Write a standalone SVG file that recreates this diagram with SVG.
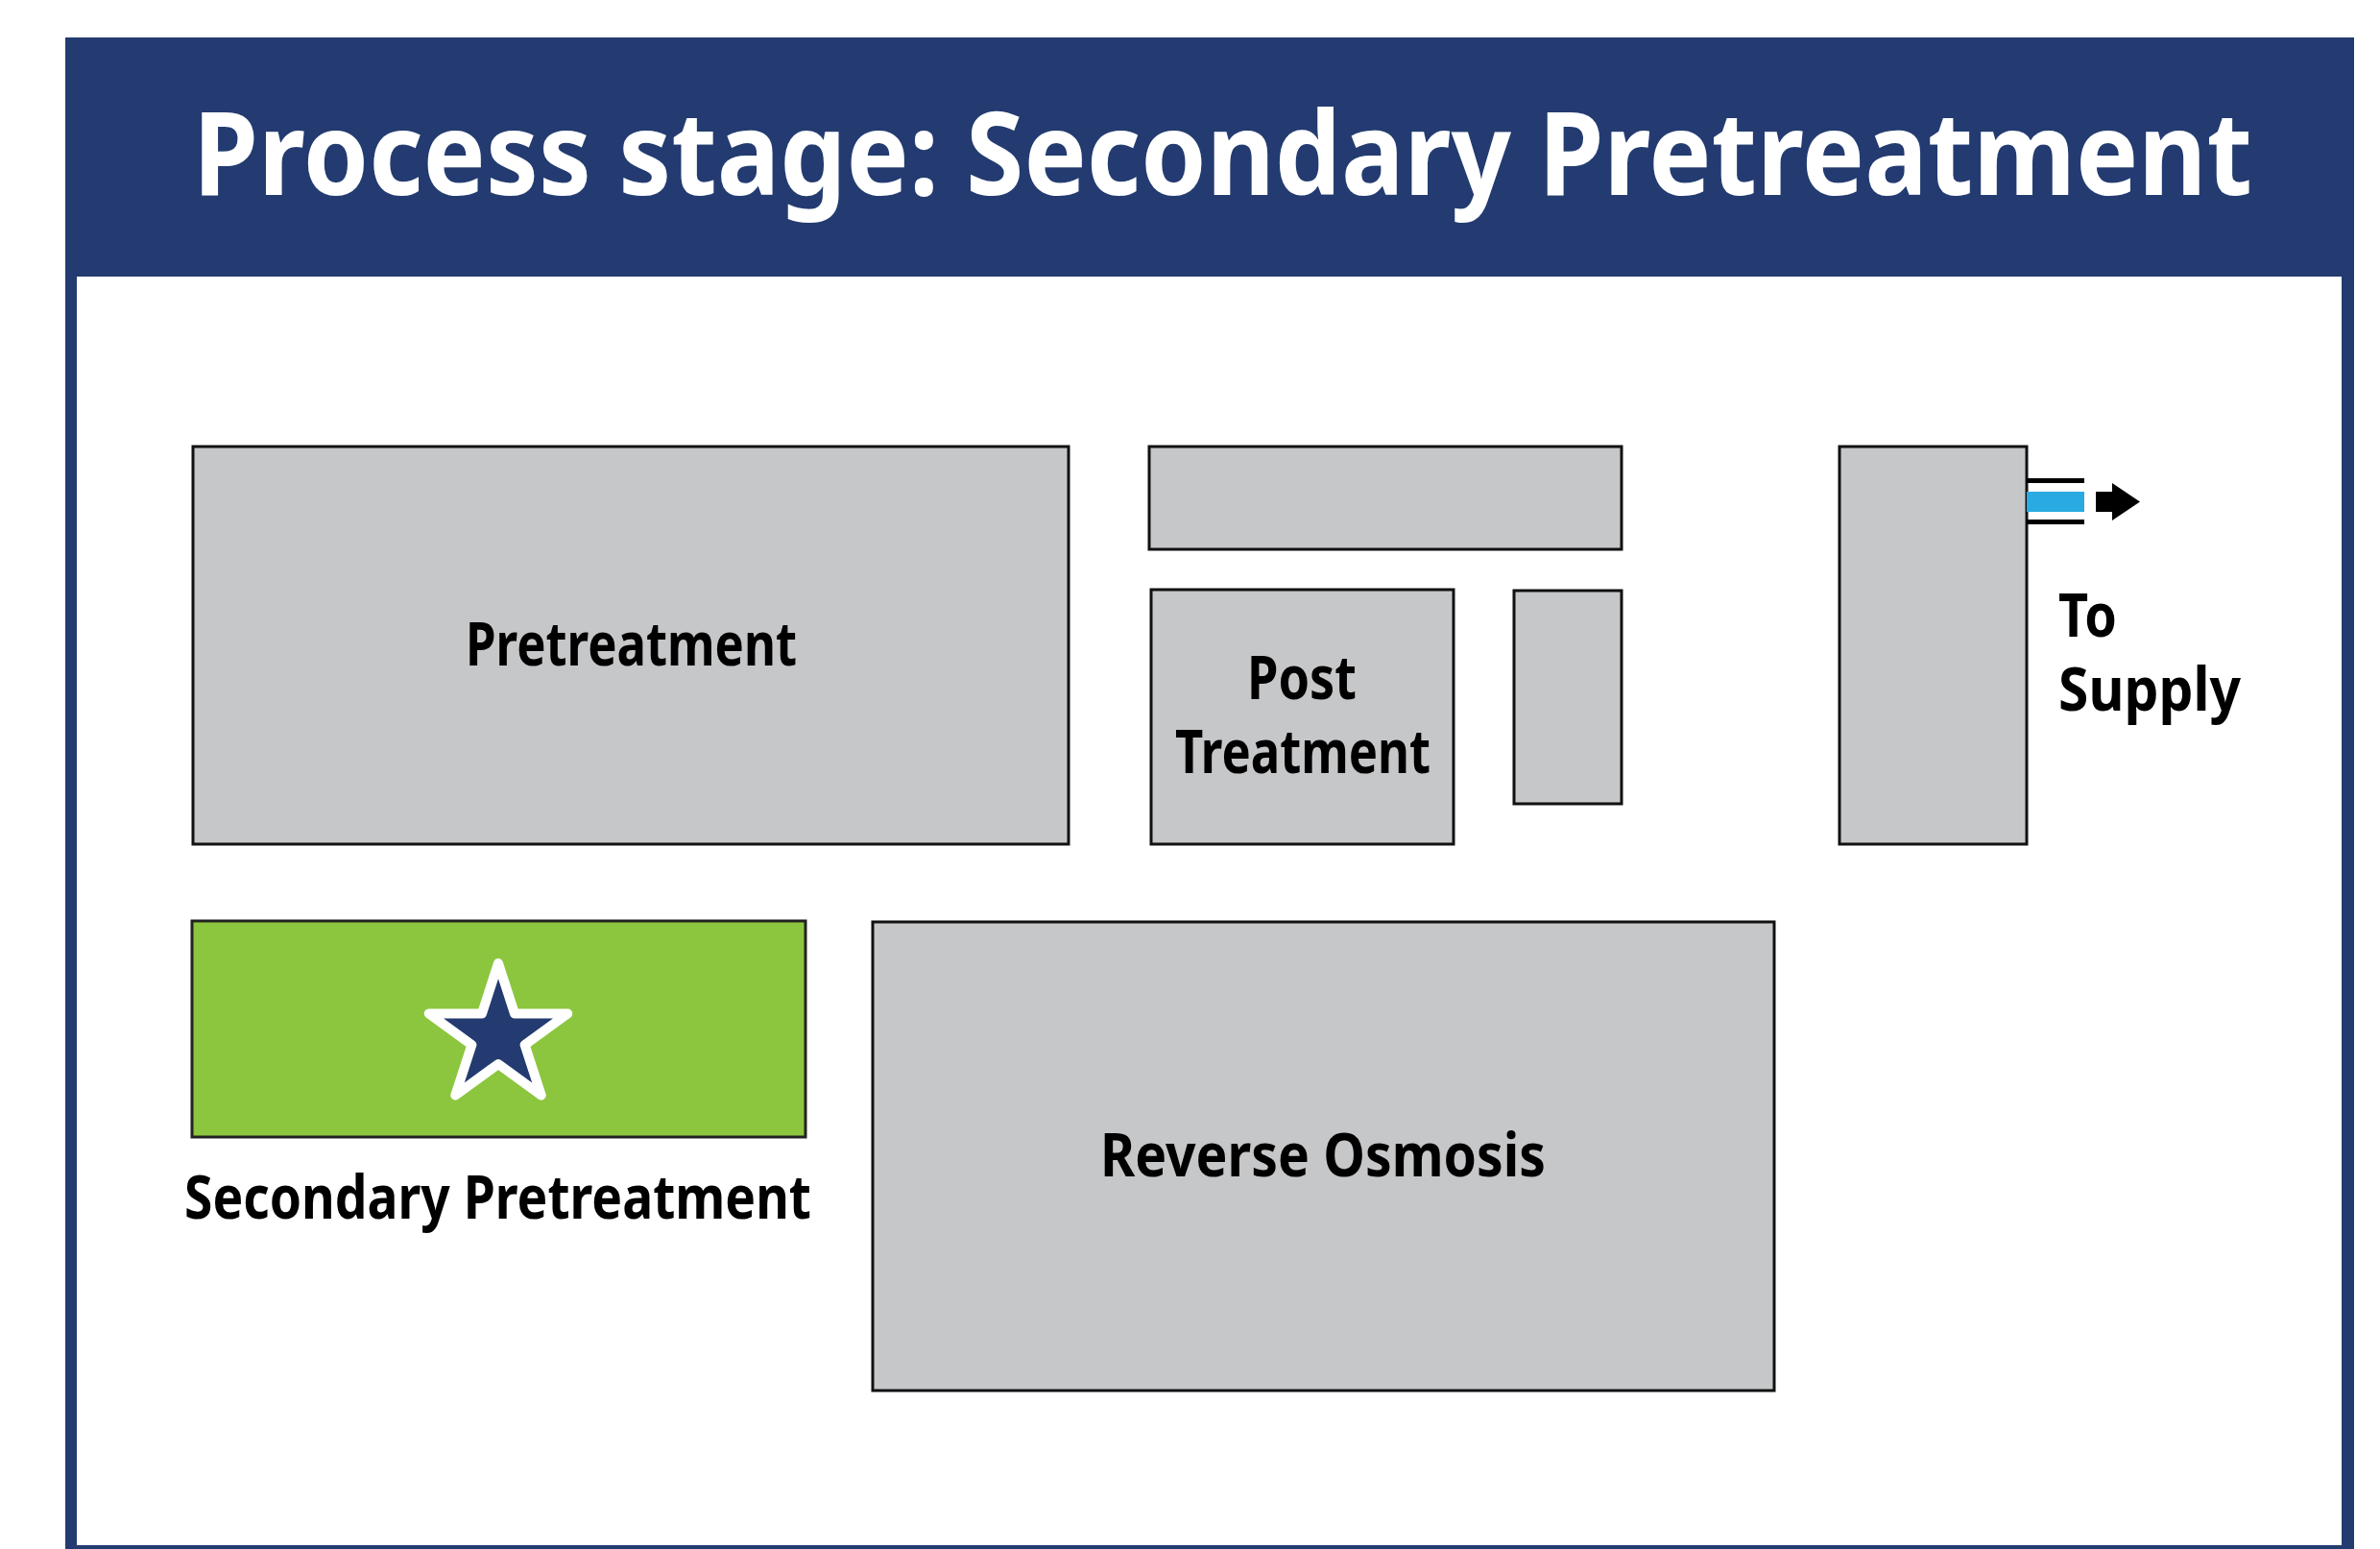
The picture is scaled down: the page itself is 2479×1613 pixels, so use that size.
<svg xmlns="http://www.w3.org/2000/svg" width="2479" height="1613" viewBox="0 0 2479 1613">
<style>
.box{fill:#C6C7C9;stroke:#111;stroke-width:3}
.green{fill:#8CC63F;stroke:#222;stroke-width:3}
.lbl{font-family:"Noto Sans","Open Sans","Liberation Sans",sans-serif;font-weight:bold;font-size:63px;fill:#000}
.title{font-family:"Noto Sans","Open Sans","Liberation Sans",sans-serif;font-weight:bold;font-size:120px;fill:#fff}
</style>
<rect x="0" y="0" width="2479" height="1613" fill="#fff"/>
<g id="frame">
<rect x="68" y="39" width="2384" height="1590" fill="#233B70"/>
<rect x="80" y="288" width="2359" height="1321" fill="#fff"/>
<text class="title" x="201" y="203" textLength="2145" lengthAdjust="spacingAndGlyphs">Process stage: Secondary Pretreatment</text>
</g>
<g id="pretreatment">
<rect class="box" x="201" y="465" width="912" height="414"/>
<text class="lbl" x="485" y="693" textLength="345" lengthAdjust="spacingAndGlyphs">Pretreatment</text>
</g>
<g id="top-middle">
<rect class="box" x="1197" y="465" width="492" height="107"/>
</g>
<g id="post-treatment">
<rect class="box" x="1199" y="614" width="315" height="265"/>
<text class="lbl" x="1299" y="728" textLength="114" lengthAdjust="spacingAndGlyphs">Post</text>
<text class="lbl" x="1224" y="805" textLength="266" lengthAdjust="spacingAndGlyphs">Treatment</text>
</g>
<g id="small-unit">
<rect class="box" x="1577" y="615" width="112" height="222"/>
</g>
<g id="tall-unit">
<rect class="box" x="1916" y="465" width="195" height="414"/>
</g>
<g id="to-supply">
<text class="lbl" x="2144" y="663" textLength="61" lengthAdjust="spacingAndGlyphs">To</text>
<text class="lbl" x="2144" y="740" textLength="190" lengthAdjust="spacingAndGlyphs">Supply</text>
</g>
<g id="reverse-osmosis">
<rect class="box" x="909" y="960" width="939" height="488"/>
<text class="lbl" x="1146" y="1225" textLength="464" lengthAdjust="spacingAndGlyphs">Reverse Osmosis</text>
</g>
<g id="secondary-pretreatment">
<rect class="green" x="200" y="959" width="639" height="225"/>
<path d="M519,1003 L536,1055.5 L591.3,1055.5 L546.6,1088 L563.7,1140.5 L519,1108 L474.3,1140.5 L491.4,1088 L446.7,1055.5 L502,1055.5 Z" fill="#233B70" stroke="#fff" stroke-width="10" stroke-linejoin="round"/>
<text class="lbl" x="192" y="1269" textLength="653" lengthAdjust="spacingAndGlyphs">Secondary Pretreatment</text>
</g>
<g id="connectors">
<rect x="2111" y="498" width="60" height="5" fill="#000"/>
<rect x="2111" y="512" width="60" height="21" fill="#29ABE2"/>
<rect x="2111" y="541" width="60" height="5" fill="#000"/>
<path d="M2183,512 L2200,512 L2200,503 L2229,522.5 L2200,542 L2200,533 L2183,533 Z" fill="#000"/>
</g>
</svg>
